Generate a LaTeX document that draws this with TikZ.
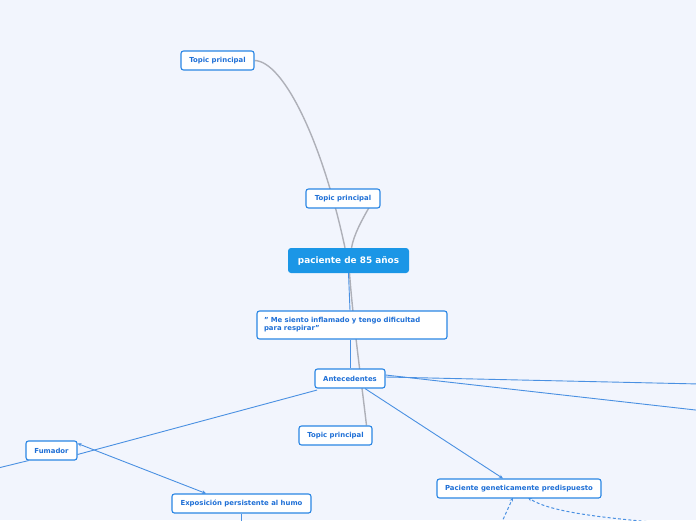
\documentclass[tikz,border=0pt]{standalone}
\usepackage{fontspec}
\setmainfont{DejaVu Sans}
\usetikzlibrary{arrows.meta}
\definecolor{bgc}{HTML}{F2F5FD}
\definecolor{nodeblue}{HTML}{2A86E4}
\definecolor{txtblue}{HTML}{1E6FD6}
\definecolor{mainblue}{HTML}{1B96E6}
\definecolor{linkblue}{HTML}{4A90E2}
\definecolor{greyline}{HTML}{AEB0B8}
\pgfdeclarelayer{bglayer}
\pgfdeclarelayer{edgelayer}
\pgfsetlayers{bglayer,edgelayer,main}
\tikzset{
  topicbox/.style={draw=nodeblue, fill=white, rounded corners=2.5pt, line width=1.1pt,
    text=txtblue, font=\fontsize{6.9}{8}\selectfont\bfseries, inner sep=0pt, minimum height=19pt},
  centralbox/.style={fill=mainblue, rounded corners=3pt, text=white,
    font=\fontsize{8.9}{10}\selectfont\bfseries, inner sep=0pt, minimum width=121pt, minimum height=25pt},
  bluelink/.style={draw=linkblue, line width=0.9pt},
  greylink/.style={draw=greyline, line width=1.4pt},
  tip/.style={-{Stealth[length=4pt,width=3.5pt]}},
  dashlink/.style={draw=linkblue, line width=1pt, dash pattern=on 3pt off 2.2pt}
}
\begin{document}
\begin{tikzpicture}[x=1pt,y=-1pt]
\begin{pgfonlayer}{bglayer}
\fill[bgc] (0,0) rectangle (696,520);
\end{pgfonlayer}
\useasboundingbox (0,0) rectangle (696,520);

\node[topicbox, minimum width=73pt] (t1) at (217.5,60.5) {Topic principal};
\node[topicbox, minimum width=74pt] (t2) at (343,198.5) {Topic principal};
\node[centralbox] (c) at (348.5,260.5) {paciente de 85 años};
\node[topicbox, minimum width=190pt, minimum height=28pt, text width=176pt, align=left] (q) at (352,325)
  {" Me siento inflamado y tengo dificultad\\para respirar"};
\node[topicbox, minimum width=70pt] (ant) at (350,378.5) {Antecedentes};
\node[topicbox, minimum width=73pt] (t3) at (335.5,435.5) {Topic principal};
\node[topicbox, minimum width=51pt] (fum) at (51.5,450.5) {Fumador};
\node[topicbox, minimum width=139pt] (exp) at (241.5,503.5) {Exposición persistente al humo};
\node[topicbox, minimum width=164pt] (pg) at (519,488.5) {Paciente geneticamente predispuesto};

\coordinate (offL) at (-10,470);
\coordinate (offR1) at (700,384);
\coordinate (offR2) at (700,410.5);
\coordinate (offB) at (241,525);
\coordinate (dashA) at (501,524);
\coordinate (dashB) at (652,522);

\begin{pgfonlayer}{edgelayer}
\draw[greylink] (t1.east) .. controls (283,61) and (322,140) .. ([xshift=-3.5pt]c.north);
\draw[greylink] ([xshift=26pt,yshift=1pt]t2.south) .. controls (362,220) and (354,234) .. ([xshift=3pt]c.north);
\draw[greylink] ([xshift=1pt]c.south) .. controls (353,320) and (360,370) .. ([xshift=31pt]t3.north);
\draw[bluelink] (c.south) -- ([xshift=-2pt]q.north);
\draw[bluelink] ([xshift=-2pt]q.south) -- (ant.north);
\draw[bluelink] ([xshift=-33pt,yshift=-1.5pt]ant.south) -- ([yshift=-4pt]fum.east);
\draw[bluelink] ([xshift=-23pt]fum.south) -- (offL);
\draw[bluelink, tip] ([xshift=15pt]ant.south) -- ([xshift=-16pt]pg.north);
\draw[bluelink, {Stealth[length=4pt,width=3.5pt]}-{Stealth[length=4pt,width=3.5pt]}]
  ([yshift=7pt]fum.east) -- ([xshift=-35.5pt]exp.north);
\draw[bluelink] ([yshift=1.5pt]ant.east) -- (offR1);
\draw[bluelink] ([yshift=3.5pt]ant.east) -- (offR2);
\draw[bluelink] ([xshift=-0.5pt]exp.south) -- (offB);
\draw[dashlink, tip] (dashA) -- ([xshift=-6pt,yshift=1pt]pg.south);
\draw[dashlink, tip] (dashB) .. controls (595,517) and (548,511) .. ([xshift=9pt,yshift=1pt]pg.south);
\end{pgfonlayer}
\end{tikzpicture}
\end{document}
